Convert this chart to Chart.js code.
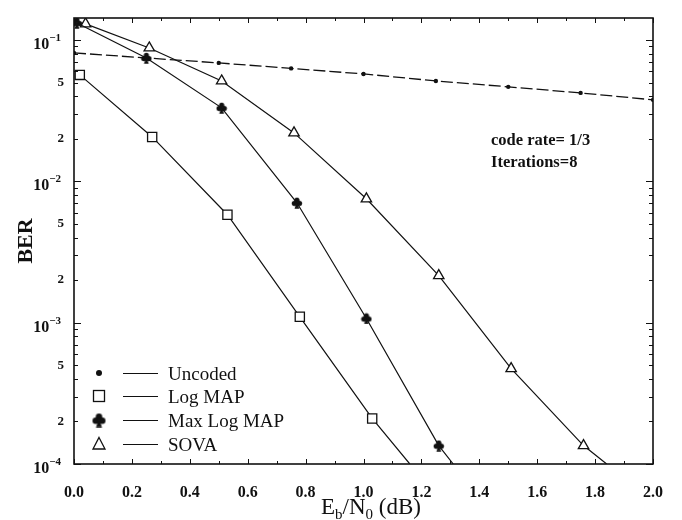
<!DOCTYPE html>
<html><head><meta charset="utf-8">
<script src="https://cdn.jsdelivr.net/npm/chart.js@4.4.1/dist/chart.umd.min.js"></script>
<style>html,body{margin:0;padding:0;background:#fff}#wrap{width:682px;height:520px;position:relative}</style>
</head><body><div id="wrap"><canvas id="c"></canvas></div>
<script>
// ---- data ----
const seriesNames = ['Uncoded', 'Log MAP', 'Max Log MAP', 'SOVA'];
const uncodedX = [0, 0.25, 0.5, 0.75, 1.0, 1.25, 1.5, 1.75, 2.0];
const uncodedBER = [0.081, 0.0746, 0.0688, 0.0629, 0.0575, 0.0513, 0.0466, 0.0422, 0.0377];
const logMapX = [0.02, 0.27, 0.53, 0.78, 1.03, 1.16];
const logMapBER = [0.0566, 0.0206, 0.0058, 0.0011, 0.00021, 0.0001];
const maxLogMapX = [0.01, 0.25, 0.51, 0.77, 1.01, 1.26, 1.31];
const maxLogMapBER = [0.132, 0.0746, 0.0331, 0.00705, 0.00107, 0.000135, 0.0001];
const sovaX = [0.04, 0.26, 0.51, 0.76, 1.01, 1.26, 1.51, 1.76, 1.84];
const sovaBER = [0.130, 0.0878, 0.0513, 0.022, 0.00752, 0.00215, 0.000473, 0.000135, 0.0001];
const xTickValues = [0, 0.2, 0.4, 0.6, 0.8, 1.0, 1.2, 1.4, 1.6, 1.8, 2.0];
const yTickValues = [1e-4, 2e-4, 5e-4, 1e-3, 2e-3, 5e-3, 1e-2, 2e-2, 5e-2, 1e-1];
const yTickLabels = ['10-4', '2', '5', '10-3', '2', '5', '10-2', '2', '5', '10-1'];
const annotationLines = ['code rate= 1/3', 'Iterations=8'];

const INK = '#111';
const SERIF = '"Liberation Serif", "DejaVu Serif", serif';

function makeClub(size) {
  const c = document.createElement('canvas');
  c.width = size; c.height = size;
  const g = c.getContext('2d');
  const s = size / 12;
  g.fillStyle = INK;
  [[6, 3.3], [3.4, 6.6], [8.6, 6.6]].forEach(p => { g.beginPath(); g.arc(p[0] * s, p[1] * s, 2.6 * s, 0, Math.PI * 2); g.fill(); });
  g.beginPath(); g.moveTo(6 * s, 5 * s); g.lineTo(3.6 * s, 11.8 * s); g.lineTo(8.4 * s, 11.8 * s); g.closePath(); g.fill();
  return c;
}
const clubSmall = makeClub(12);
const clubLegend = makeClub(15);

function pts(xs, ys) { return xs.map((x, i) => ({ x: x, y: ys[i] })); }
function radii(n, r, lastBare) { return Array.from({ length: n }, (_, i) => (lastBare && i === n - 1) ? 0 : r); }

const datasets = [
  { label: seriesNames[0], data: pts(uncodedX, uncodedBER), borderColor: INK, borderWidth: 1.3, borderDash: [12, 4],
    pointStyle: 'circle', pointRadius: 2.2, pointBackgroundColor: INK, pointBorderWidth: 0 },
  { label: seriesNames[1], data: pts(logMapX, logMapBER), borderColor: INK, borderWidth: 1.2,
    pointStyle: 'rect', pointRadius: radii(logMapX.length, 6.5, true), pointBackgroundColor: '#fff', pointBorderColor: INK, pointBorderWidth: 1.3 },
  { label: seriesNames[2], data: pts(maxLogMapX, maxLogMapBER), borderColor: INK, borderWidth: 1.2,
    pointStyle: clubSmall, pointRadius: radii(maxLogMapX.length, 5, true) },
  { label: seriesNames[3], data: pts(sovaX, sovaBER), borderColor: INK, borderWidth: 1.2,
    pointStyle: 'triangle', pointRadius: radii(sovaX.length, 6, true), pointBackgroundColor: '#fff', pointBorderColor: INK, pointBorderWidth: 1.3 }
];
datasets.forEach(d => { d.showLine = true; d.fill = false; d.tension = 0; d.pointHoverRadius = 0; });

const decorPlugin = {
  id: 'decor',
  afterDatasetsDraw(chart) {
    const ctx = chart.ctx, a = chart.chartArea;
    const xs = chart.scales.x, ys = chart.scales.y;
    ctx.save();
    ctx.strokeStyle = INK;
    // inner ticks on left/right
    ctx.lineWidth = 1;
    for (let d = -4; d <= -1; d++) {
      for (let m = 1; m <= 9; m++) {
        const v = m * Math.pow(10, d);
        if (v < ys.min - 1e-12 || v > ys.max) continue;
        const py = Math.round(ys.getPixelForValue(v)) + 0.5;
        const L = m === 1 ? 7 : 4;
        ctx.beginPath();
        ctx.moveTo(a.left, py); ctx.lineTo(a.left + L, py);
        ctx.moveTo(a.right, py); ctx.lineTo(a.right - L, py);
        ctx.stroke();
      }
    }
    // inner ticks top/bottom
    for (let i = 0; i <= 20; i++) {
      const v = i / 10;
      const px = Math.round(xs.getPixelForValue(v)) + 0.5;
      const L = i % 2 === 0 ? 5 : 3;
      ctx.beginPath();
      ctx.moveTo(px, a.bottom); ctx.lineTo(px, a.bottom - L);
      ctx.moveTo(px, a.top); ctx.lineTo(px, a.top + L);
      ctx.stroke();
    }
    // frame
    ctx.lineWidth = 1.6;
    ctx.strokeRect(a.left, a.top, a.right - a.left, a.bottom - a.top);

    ctx.fillStyle = INK;
    ctx.textBaseline = 'alphabetic';
    // decade labels 10^n with superscript exponent
    yTickValues.forEach((v, i) => {
      const lab = yTickLabels[i];
      if (lab.indexOf('10') !== 0) return;
      const exp = '\u2212' + lab.slice(3);
      const py = ys.getPixelForValue(v);
      ctx.font = 'bold 11px ' + SERIF;
      const ew = ctx.measureText(exp).width;
      ctx.textAlign = 'right';
      ctx.fillText(exp, 61, py + 1);
      ctx.font = 'bold 16px ' + SERIF;
      ctx.fillText('10', 61 - ew, py + 9);
    });

    // annotation
    ctx.textAlign = 'left';
    ctx.font = 'bold 16.5px ' + SERIF;
    ctx.fillText(annotationLines[0], 491, 145);
    ctx.fillText(annotationLines[1], 491, 167);

    // legend
    const rows = [373, 396, 420, 444];
    ctx.font = '19px ' + SERIF;
    rows.forEach((ry, i) => {
      const mx = 99;
      ctx.lineWidth = 1.3;
      ctx.strokeStyle = INK; ctx.fillStyle = INK;
      if (i === 0) { ctx.beginPath(); ctx.arc(mx, ry, 3, 0, Math.PI * 2); ctx.fill(); }
      if (i === 1) { ctx.fillStyle = '#fff'; ctx.fillRect(mx - 5.5, ry - 5.5, 11, 11); ctx.strokeRect(mx - 5.5, ry - 5.5, 11, 11); }
      if (i === 2) { ctx.drawImage(clubLegend, mx - 7.5, ry - 7.5); }
      if (i === 3) { ctx.beginPath(); ctx.moveTo(mx, ry - 6.5); ctx.lineTo(mx + 6, ry + 5); ctx.lineTo(mx - 6, ry + 5); ctx.closePath(); ctx.stroke(); }
      ctx.lineWidth = 1.2;
      ctx.beginPath(); ctx.moveTo(123, ry + 0.5); ctx.lineTo(158, ry + 0.5); ctx.stroke();
      ctx.fillStyle = INK;
      ctx.fillText(seriesNames[i], 168, ry + 6.5);
    });

    // x-axis title with subscripts
    const big = '23px ' + SERIF, small = '15px ' + SERIF;
    const parts = [['E', big, 0], ['b', small, 5], ['/N', big, 0], ['0', small, 5], [' (dB)', big, 0]];
    let w = 0;
    parts.forEach(p => { ctx.font = p[1]; w += ctx.measureText(p[0]).width; });
    let x = 371 - w / 2;
    const base = 514;
    parts.forEach(p => { ctx.font = p[1]; ctx.fillText(p[0], x, base + p[2]); x += ctx.measureText(p[0]).width; });
    ctx.restore();
  }
};

new Chart(document.getElementById('c'), {
  type: 'line',
  data: { datasets: datasets },
  options: {
    responsive: true, maintainAspectRatio: false, animation: false,
    layout: { padding: { left: 0, right: 24, top: 18, bottom: 0 } },
    plugins: { legend: { display: false }, tooltip: { enabled: false } },
    scales: {
      x: {
        type: 'linear', min: 0, max: 2,
        afterBuildTicks: s => { s.ticks = xTickValues.map(v => ({ value: v })); },
        afterFit: s => { s.height = 56; },
        grid: { display: false, drawTicks: false },
        border: { display: false },
        ticks: { padding: 19, color: INK, maxRotation: 0, autoSkip: false,
          font: { family: SERIF, weight: 'bold', size: 16 },
          callback: v => Number(v).toFixed(1) }
      },
      y: {
        type: 'logarithmic', min: 1e-4, max: 0.143,
        afterBuildTicks: s => { s.ticks = yTickValues.map(v => ({ value: v })); },
        afterFit: s => { s.width = 74; },
        grid: { display: false, drawTicks: false },
        border: { display: false },
        title: { display: true, text: 'BER', color: INK, padding: { top: 13, bottom: 0 },
          font: { family: SERIF, weight: 'bold', size: 22 } },
        ticks: { padding: 10, color: INK, autoSkip: false,
          font: { family: SERIF, weight: 'bold', size: 13 },
          callback: (v, i) => (yTickLabels[i].indexOf('10') === 0 ? '' : yTickLabels[i]) }
      }
    }
  },
  plugins: [decorPlugin]
});
</script>
</body></html>
